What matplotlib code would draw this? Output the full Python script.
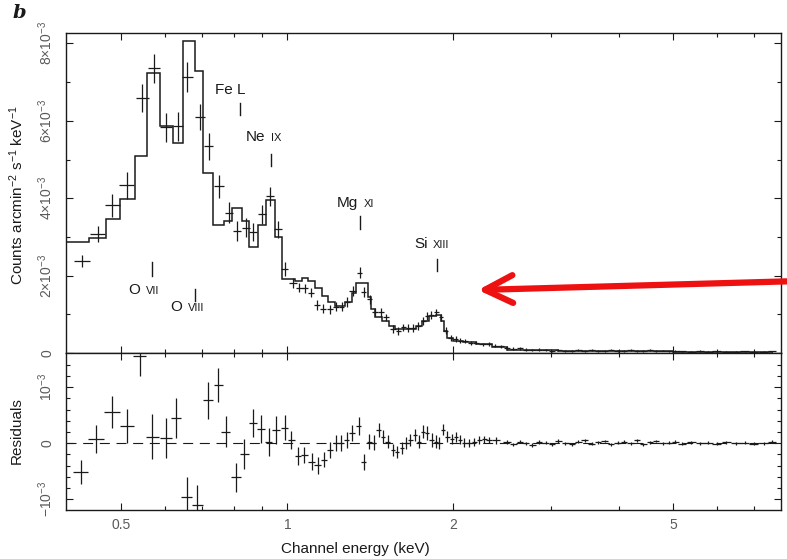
import numpy as np
import matplotlib
matplotlib.use('Agg')
from matplotlib import pyplot as plt
from matplotlib.patches import FancyArrowPatch

plt.rcParams['font.family'] = ['Liberation Sans', 'DejaVu Sans']
plt.rcParams['mathtext.default'] = 'regular'

# model spectrum (step histogram), counts in units of 1e-3
model_edges = [0.397, 0.4375, 0.469, 0.498, 0.530, 0.557, 0.587, 0.620, 0.648, 0.680,
               0.703, 0.734, 0.768, 0.794, 0.828, 0.851, 0.884, 0.913, 0.948, 0.980,
               1.031, 1.061, 1.091, 1.122, 1.154, 1.187, 1.220, 1.273, 1.309, 1.331,
               1.400, 1.420, 1.443, 1.485, 1.527, 1.570, 1.708, 1.756, 1.806, 1.858,
               1.897, 1.924, 1.951, 1.993, 2.078, 2.2, 2.35, 2.5, 2.7, 3.1,
               4.0, 5.0, 7.6]
model_counts = [2.87, 2.98, 3.47, 3.99, 5.08, 7.23, 5.86, 5.43, 8.07, 7.29,
                4.64, 3.30, 3.41, 3.75, 3.41, 2.75, 3.32, 3.95, 3.01, 1.90,
                1.86, 1.93, 1.86, 1.69, 1.48, 1.31, 1.22, 1.31, 1.56, 1.82,
                1.44, 1.13, 0.92, 0.83, 0.70, 0.62, 0.69, 0.83, 0.96, 0.98,
                0.83, 0.57, 0.40, 0.32, 0.28, 0.22, 0.15, 0.09, 0.07, 0.06,
                0.05, 0.035]

# measured spectrum below ~2 keV
lo_energy = [0.425, 0.453, 0.482, 0.512, 0.546, 0.573, 0.603, 0.634, 0.659, 0.695,
             0.720, 0.752, 0.784, 0.810, 0.842, 0.868, 0.900, 0.930, 0.962, 0.989,
             1.024, 1.052, 1.078, 1.106, 1.134, 1.162, 1.195, 1.225, 1.254, 1.284,
             1.313, 1.352, 1.376, 1.410, 1.443, 1.479, 1.507, 1.555, 1.588, 1.623,
             1.657, 1.692, 1.728, 1.764, 1.793, 1.825, 1.862, 1.900, 1.938, 1.979,
             2.02, 2.06]
lo_counts = [2.38, 3.07, 3.82, 4.33, 6.59, 7.36, 5.83, 5.86, 7.13, 6.10,
             5.34, 4.31, 3.63, 3.15, 3.24, 3.13, 3.58, 4.05, 3.20, 2.16,
             1.82, 1.69, 1.67, 1.56, 1.24, 1.15, 1.13, 1.20, 1.20, 1.32,
             1.61, 2.08, 1.58, 1.39, 1.06, 1.05, 0.92, 0.62, 0.57, 0.66,
             0.64, 0.64, 0.70, 0.83, 0.96, 0.98, 1.05, 0.92, 0.57, 0.38,
             0.36, 0.32]
lo_err = [0.15, 0.21, 0.30, 0.34, 0.37, 0.37, 0.37, 0.37, 0.39, 0.34,
          0.34, 0.30, 0.26, 0.25, 0.25, 0.24, 0.24, 0.25, 0.22, 0.18,
          0.13, 0.12, 0.12, 0.12, 0.12, 0.12, 0.12, 0.12, 0.12, 0.12,
          0.13, 0.15, 0.13, 0.12, 0.11, 0.11, 0.10, 0.10, 0.10, 0.10,
          0.10, 0.10, 0.10, 0.10, 0.10, 0.10, 0.10, 0.10, 0.09, 0.08,
          0.07, 0.07]

# measured spectrum, hard tail
tail_energy = [2.10, 2.15, 2.20, 2.26, 2.32, 2.38, 2.44, 2.50, 2.57, 2.64,
               2.71, 2.78, 2.86, 2.94, 3.02, 3.10, 3.19, 3.28, 3.37, 3.46,
               3.56, 3.66, 3.76, 3.86, 3.97, 4.08, 4.19, 4.30, 4.42, 4.54,
               4.66, 4.79, 4.92, 5.05, 5.2, 5.4, 5.6, 5.8, 6.0, 6.25,
               6.5, 6.75, 7.0, 7.3, 7.55]
tail_counts = [0.30, 0.26, 0.27, 0.22, 0.24, 0.19, 0.17, 0.13, 0.11, 0.12,
               0.09, 0.08, 0.09, 0.07, 0.06, 0.08, 0.06, 0.05, 0.07, 0.06,
               0.08, 0.05, 0.06, 0.09, 0.06, 0.05, 0.07, 0.04, 0.06, 0.08,
               0.05, 0.06, 0.04, 0.05, 0.04, 0.03, 0.05, 0.03, 0.04, 0.03,
               0.03, 0.04, 0.02, 0.03, 0.04]
tail_err = [0.05, 0.05, 0.05, 0.05, 0.05, 0.04, 0.04, 0.04, 0.04, 0.04,
            0.03, 0.03, 0.03, 0.03, 0.03, 0.03, 0.03, 0.03, 0.03, 0.03,
            0.025, 0.025, 0.025, 0.025, 0.025, 0.025, 0.025, 0.025, 0.025, 0.025,
            0.02, 0.02, 0.02, 0.02, 0.02, 0.02, 0.02, 0.02, 0.02, 0.02,
            0.02, 0.02, 0.02, 0.02, 0.02]

# residuals (units of 1e-3)
res_energy = [0.422, 0.450, 0.481, 0.512, 0.540, 0.569, 0.602, 0.629, 0.657, 0.687,
              0.718, 0.749, 0.774, 0.807, 0.836, 0.866, 0.897, 0.925, 0.955, 0.989,
              1.017, 1.046, 1.073, 1.107, 1.135, 1.167, 1.195, 1.224, 1.251, 1.281,
              1.312, 1.346, 1.375, 1.407, 1.434, 1.464, 1.491, 1.522, 1.555, 1.581,
              1.615, 1.644, 1.672, 1.703, 1.732, 1.764, 1.793, 1.826, 1.858, 1.884,
              1.918, 1.951, 1.987, 2.020, 2.058, 2.093, 2.138, 2.183, 2.229, 2.276,
              2.324, 2.390]
res_value = [-0.51, 0.07, 0.56, 0.31, 1.55, 0.12, 0.09, 0.45, -0.96, -1.10,
             0.77, 1.04, 0.21, -0.61, -0.19, 0.37, 0.25, 0.03, 0.23, 0.28,
             0.06, -0.22, -0.21, -0.33, -0.39, -0.29, -0.12, 0.00, 0.00, 0.06,
             0.18, 0.30, -0.33, 0.03, 0.01, 0.24, 0.12, 0.03, -0.12, -0.15,
             -0.09, 0.01, 0.06, 0.15, 0.03, 0.21, 0.18, 0.06, 0.03, 0.00,
             0.24, 0.12, 0.07, 0.11, 0.06, 0.01, 0.00, 0.03, 0.06, 0.07,
             0.06, 0.05]
res_err = [0.22, 0.25, 0.28, 0.30, 0.35, 0.40, 0.36, 0.36, 0.35, 0.35,
           0.33, 0.30, 0.27, 0.26, 0.26, 0.25, 0.25, 0.25, 0.25, 0.22,
           0.16, 0.16, 0.15, 0.15, 0.15, 0.14, 0.14, 0.14, 0.14, 0.14,
           0.14, 0.16, 0.14, 0.13, 0.13, 0.12, 0.12, 0.12, 0.11, 0.11,
           0.11, 0.11, 0.11, 0.11, 0.11, 0.12, 0.12, 0.12, 0.12, 0.11,
           0.10, 0.10, 0.09, 0.09, 0.08, 0.08, 0.07, 0.07, 0.07, 0.06,
           0.06, 0.06]
res_tail = [0.02, -0.02, 0.03, 0.00, -0.03, 0.02, 0.01, -0.02, 0.04, 0.00,
            -0.02, 0.03, 0.05, -0.01, 0.02, 0.04, -0.02, 0.01, 0.03, 0.00,
            0.05, -0.02, 0.02, 0.04, 0.00, 0.01, 0.03, -0.01, 0.02, 0.00,
            0.01, -0.01, 0.02, 0.00, 0.01, -0.01, 0.00, 0.03]

# emission line markers
line_names = ['O', 'O', 'Fe L', 'Ne', 'Mg', 'Si']
line_ions = ['VII', 'VIII', '', 'IX', 'XI', 'XIII']
line_energy = [0.569, 0.680, 0.821, 0.933, 1.355, 1.87]
tick_lo = [1.98, 1.34, 6.16, 4.82, 3.20, 2.11]
tick_hi = [2.35, 1.65, 6.47, 5.13, 3.53, 2.42]
label_x = [0.515, 0.614, 0.739, 0.842, 1.228, 1.698]
label_y = [1.62, 1.19, 6.80, 5.57, 3.87, 2.81]

W, H = 787, 559
fig = plt.figure(figsize=(W / 100, H / 100), dpi=100)
ax1 = fig.add_axes([66 / W, 1 - 353 / H, 715 / W, 320 / H])
ax2 = fig.add_axes([66 / W, 1 - 510 / H, 715 / W, 157 / H], sharex=ax1)

ink = '#1a1a1a'
energy = np.array(lo_energy + tail_energy)
counts = np.array(lo_counts + tail_counts)
cerr = np.array(lo_err + tail_err)
ax1.stairs(model_counts, model_edges, baseline=None, color=ink, lw=1.1)
ax1.errorbar(energy, counts, xerr=np.gradient(energy) / 2, yerr=cerr,
             fmt='none', ecolor=ink, elinewidth=0.9, capsize=0)

for name, ion, e, lo, hi, lx, ly in zip(line_names, line_ions, line_energy,
                                        tick_lo, tick_hi, label_x, label_y):
    ax1.plot([e, e], [lo, hi], color=ink, lw=1.0)
    t = ax1.text(lx, ly, name, fontsize=11, color=ink, ha='left', va='center')
    if ion:
        ax1.annotate(ion, xy=(1, 0.08), xycoords=t, xytext=(4, 0),
                     textcoords='offset points', fontsize=8, color=ink,
                     ha='left', va='bottom')

res_e = np.array(res_energy + tail_energy[7:])
res_v = np.array(res_value + res_tail)
res_s = np.array(res_err + [0.03] * 10 + [0.025] * 28)
ax2.axhline(0, color=ink, lw=0.8, ls=(0, (9, 6)))
ax2.errorbar(res_e, res_v, xerr=np.gradient(res_e) / 2, yerr=res_s,
             fmt='none', ecolor=ink, elinewidth=0.9, capsize=0)

ax1.set_xscale('log')
ax1.set_xlim(0.397, 7.85)
ax1.set_ylim(0, 8.27)
ax2.set_ylim(-1.19, 1.61)

gray = '#5a5a5a'
for ax in (ax1, ax2):
    for s in ax.spines.values():
        s.set_linewidth(1.0)
        s.set_color(ink)
    ax.tick_params(which='both', direction='in', top=True, right=True,
                   width=0.8, colors=ink, labelcolor=gray, labelsize=10)
    ax.tick_params(which='major', length=5)
    ax.tick_params(which='minor', length=3)

ax2.set_xticks([0.5, 1, 2, 5], ['0.5', '1', '2', '5'])
ax2.set_xticks([0.6, 0.7, 0.8, 0.9, 3, 4, 6, 7], minor=True)
ax2.xaxis.set_minor_formatter(plt.NullFormatter())
ax2.tick_params(axis='x', pad=6)
ax1.tick_params(axis='x', which='both', labelbottom=False)

ax1.set_yticks([0, 2, 4, 6, 8],
               ['0', '2×10$^{-3}$', '4×10$^{-3}$', '6×10$^{-3}$', '8×10$^{-3}$'])
ax1.set_yticks([1, 3, 5, 7], minor=True)
ax2.set_yticks([-1, 0, 1], ['\u221210$^{-3}$', '0', '10$^{-3}$'])
ax2.set_yticks([-0.8, -0.6, -0.4, -0.2, 0.2, 0.4, 0.6, 0.8, 1.2, 1.4], minor=True)
for ax in (ax1, ax2):
    for lab in ax.get_yticklabels():
        lab.set_rotation(90)
        lab.set_va('center')
    ax.tick_params(axis='y', pad=8)

fig.text(17 / W, 1 - 195 / H, 'Counts arcmin$^{-2}$ s$^{-1}$ keV$^{-1}$',
         rotation=90, ha='center', va='center', fontsize=11, color=ink)
fig.text(17 / W, 1 - 431 / H, 'Residuals', rotation=90, ha='center',
         va='center', fontsize=11, color=ink)
fig.text(355 / W, 1 - 549 / H, 'Channel energy (keV)', ha='center',
         va='center', fontsize=11, color=ink)
fig.text(19 / W, 1 - 13 / H, 'b', family='DejaVu Serif', style='italic',
         weight='bold', fontsize=14, ha='center', va='center', color=ink)

arrow = FancyArrowPatch(posA=(800 / W, 1 - 281 / H), posB=(478 / W, 1 - 290 / H),
                        transform=fig.transFigure,
                        arrowstyle='->,head_length=1.0,head_width=0.5',
                        mutation_scale=20, lw=4.5, color='#ee1111',
                        capstyle='round', joinstyle='round',
                        shrinkA=0, shrinkB=0)
fig.add_artist(arrow)

fig.savefig('out.png', dpi=100)
